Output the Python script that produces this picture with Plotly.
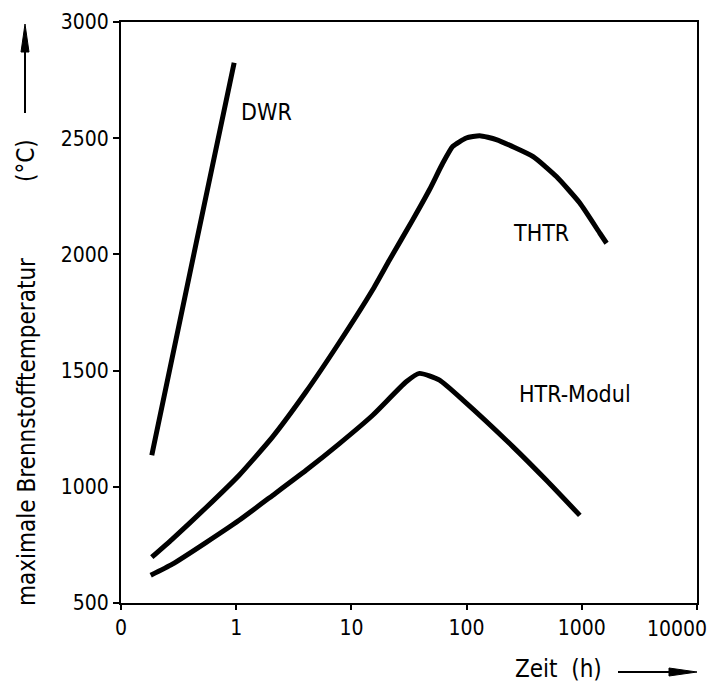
import math
import plotly.graph_objects as go

# ---- data ----
dwr_t = [0.185, 0.45, 0.96]
dwr_T = [1136, 2050, 2825]

thtr_t = [0.185, 0.279, 0.546, 1.06, 2.07, 4.04, 7.87, 15.3, 21.4, 34.1, 47.6, 62.2, 76, 99.3,
          130, 181, 378, 602, 961, 1435, 1641]
thtr_T = [697, 775, 910, 1050, 1215, 1409, 1622, 1848, 1976, 2149, 2278, 2393, 2465, 2501,
          2511, 2494, 2421, 2335, 2221, 2091, 2048]

htr_t = [0.181, 0.279, 0.546, 1.06, 2.07, 4.04, 7.87, 15.3, 29.9, 39, 58.2, 93, 253, 493, 961]
htr_T = [619, 667, 760, 856, 963, 1071, 1186, 1308, 1452, 1488, 1459, 1373, 1172, 1028, 877]

x_tickvals = [0.1, 1, 10, 100, 1000, 10000]
x_ticktext = ["0", "1", "10", "100", "1000", "10000"]
y_tickvals = [500, 1000, 1500, 2000, 2500, 3000]

curve_labels = ["DWR", "THTR", "HTR-Modul"]
label_pos_t = [1.82, 440, 869]
label_pos_T = [2614, 2093, 1399]

FONT = "DejaVu Sans Condensed, Liberation Sans Narrow, sans-serif"

W, H = 712, 683
ML, MR, MT, MB = 121, 15, 22, 80
PW, PH = W - ML - MR, H - MT - MB


def px(x):
    return (x - ML) / PW


def py(y):
    return (H - MB - y) / PH


fig = go.Figure()
for t, T in [(dwr_t, dwr_T), (thtr_t, thtr_T), (htr_t, htr_T)]:
    fig.add_trace(go.Scatter(
        x=t, y=T, mode="lines",
        line=dict(color="black", width=5, shape="spline", smoothing=0.5),
        showlegend=False, hoverinfo="skip"))

annotations = []
for lab, t, T in zip(curve_labels, label_pos_t, label_pos_T):
    annotations.append(dict(x=math.log10(t), y=T, xref="x", yref="y", text=lab,
                            showarrow=False, font=dict(family=FONT, size=23, color="black"),
                            xanchor="center", yanchor="middle"))

# last x tick label drawn inside the page (right-aligned at the frame edge)
annotations.append(dict(x=math.log10(x_tickvals[-1]), y=0, xref="x", yref="paper",
                        text=x_ticktext[-1], showarrow=False, xanchor="right", yanchor="top",
                        xshift=12, yshift=-12,
                        font=dict(family=FONT, size=21, color="black")))

# axis titles
annotations.append(dict(x=px(27), y=py(432), xref="paper", yref="paper",
                        text="maximale Brennstofftemperatur", textangle=-90, showarrow=False,
                        xanchor="center", yanchor="middle",
                        font=dict(family=FONT, size=24, color="black")))
annotations.append(dict(x=px(26), y=py(161), xref="paper", yref="paper",
                        text="(°C)", textangle=-90, showarrow=False,
                        xanchor="center", yanchor="middle",
                        font=dict(family=FONT, size=24, color="black")))
annotations.append(dict(x=px(558), y=py(669), xref="paper", yref="paper",
                        text="Zeit\u00a0\u00a0(h)", showarrow=False,
                        xanchor="center", yanchor="middle",
                        font=dict(family=FONT, size=24, color="black")))

shapes = [
    # y arrow shaft + head
    dict(type="line", xref="paper", yref="paper", x0=px(25), x1=px(25), y0=py(113), y1=py(48),
         line=dict(color="black", width=2)),
    dict(type="path", xref="paper", yref="paper",
         path=f"M {px(25)} {py(24)} L {px(21)} {py(52)} L {px(29)} {py(52)} Z",
         fillcolor="black", line=dict(color="black", width=1)),
    # x arrow shaft + head
    dict(type="line", xref="paper", yref="paper", x0=px(618), x1=px(673), y0=py(672), y1=py(672),
         line=dict(color="black", width=2)),
    dict(type="path", xref="paper", yref="paper",
         path=f"M {px(697)} {py(672)} L {px(669)} {py(668)} L {px(669)} {py(676)} Z",
         fillcolor="black", line=dict(color="black", width=1)),
]

fig.update_layout(
    width=W, height=H,
    margin=dict(l=ML, r=MR, t=MT, b=MB, pad=0),
    paper_bgcolor="white", plot_bgcolor="white",
    font=dict(family=FONT, color="black"),
    annotations=annotations, shapes=shapes,
    xaxis=dict(type="log", range=[-1, 4], tickvals=x_tickvals,
               ticktext=x_ticktext[:-1] + [""],
               ticks="outside", ticklen=5, tickwidth=1.5, tickcolor="black",
               showline=True, linecolor="black", linewidth=2, mirror=True,
               showgrid=False, zeroline=False, automargin=False,
               tickfont=dict(family=FONT, size=21, color="black")),
    yaxis=dict(range=[500, 3000], tickvals=y_tickvals,
               ticks="outside", ticklen=6, tickwidth=1.5, tickcolor="black",
               showline=True, linecolor="black", linewidth=2, mirror=True,
               showgrid=False, zeroline=False, automargin=False,
               tickfont=dict(family=FONT, size=21, color="black")),
)

fig.write_html("out.html")
